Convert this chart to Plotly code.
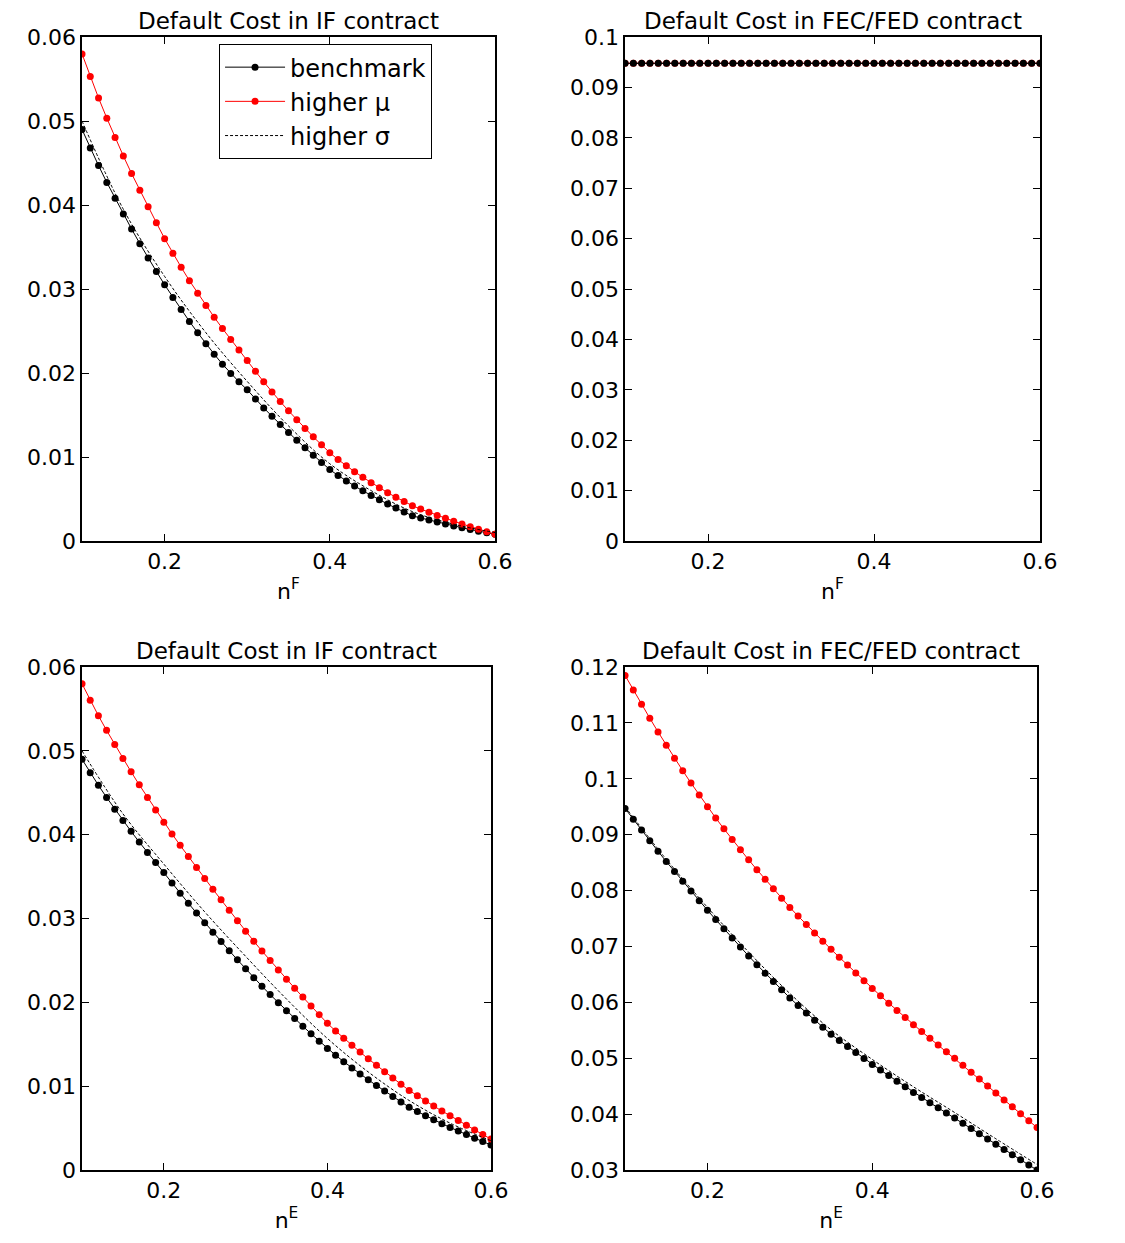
import plotly.graph_objects as go

# x grid (51 points, step 0.01) and coarse grid for the dashed curves
n_grid = [round(0.10 + 0.01 * i, 2) for i in range(51)]
n_coarse = [0.10, 0.15, 0.20, 0.25, 0.30, 0.35, 0.40, 0.45, 0.50, 0.55, 0.60]

# --- top-left: IF contract vs n^F (values in 1e-3)
tl_bench = [49.0, 46.8, 44.7, 42.7, 40.8, 38.95, 37.15, 35.4, 33.7, 32.1, 30.5,
            29.0, 27.55, 26.15, 24.8, 23.5, 22.25, 21.05, 19.95, 18.95, 18.0,
            16.9, 15.85, 14.85, 13.87, 12.92, 11.99, 11.09, 10.21, 9.34, 8.5,
            7.8, 7.15, 6.55, 5.97, 5.42, 4.9, 4.4, 3.92, 3.45, 3.0,
            2.74, 2.49, 2.25, 2.02, 1.8, 1.58, 1.37, 1.17, 0.98, 0.8]
tl_mu = [58.0, 55.3, 52.75, 50.35, 48.05, 45.85, 43.75, 41.75, 39.8, 37.9, 36.0,
         34.25, 32.6, 31.0, 29.5, 28.05, 26.65, 25.3, 24.0, 22.75, 21.5,
         20.2, 18.95, 17.75, 16.6, 15.5, 14.45, 13.4, 12.4, 11.45, 10.5,
         9.7, 8.95, 8.25, 7.58, 6.94, 6.33, 5.76, 5.21, 4.69, 4.2,
         3.8, 3.42, 3.05, 2.7, 2.36, 2.03, 1.71, 1.4, 1.1, 0.8]
tl_sigma = [50.0, 39.5, 31.5, 24.8, 19.0, 13.7, 9.2, 6.0, 3.5, 2.0, 1.0]

# --- top-right: FEC/FED contract vs n^F (flat)
tr_bench = [94.8] * 51
tr_mu = [94.8] * 51
tr_sigma = [94.8] * 11

# --- bottom-left: IF contract vs n^E
bl_bench = [49.0, 47.4, 45.9, 44.45, 43.05, 41.7, 40.4, 39.12, 37.88, 36.68, 35.5,
            34.25, 33.03, 31.83, 30.66, 29.51, 28.38, 27.27, 26.17, 25.08, 24.0,
            22.95, 21.93, 20.93, 19.96, 19.01, 18.08, 17.16, 16.26, 15.38, 14.5,
            13.7, 12.93, 12.19, 11.47, 10.77, 10.09, 9.42, 8.77, 8.13, 7.5,
            6.98, 6.48, 6.0, 5.54, 5.09, 4.65, 4.23, 3.81, 3.4, 3.0]
bl_mu = [58.0, 56.05, 54.2, 52.45, 50.75, 49.1, 47.5, 45.95, 44.45, 42.95, 41.5,
         40.1, 38.73, 37.39, 36.08, 34.78, 33.5, 32.23, 30.98, 29.74, 28.5,
         27.3, 26.13, 24.99, 23.87, 22.77, 21.69, 20.63, 19.58, 18.54, 17.5,
         16.6, 15.73, 14.89, 14.07, 13.27, 12.49, 11.73, 10.98, 10.24, 9.5,
         8.86, 8.24, 7.64, 7.05, 6.47, 5.9, 5.34, 4.79, 4.24, 3.7]
bl_sigma = [50.0, 42.5, 36.5, 30.8, 25.5, 20.4, 15.7, 11.7, 8.3, 5.6, 3.5]

# --- bottom-right: FEC/FED contract vs n^E
br_bench = [94.7, 92.75, 90.83, 88.93, 87.05, 85.2, 83.42, 81.66, 79.92, 78.2, 76.5,
            74.82, 73.16, 71.52, 69.9, 68.3, 66.75, 65.23, 63.73, 62.25, 60.8,
            59.44, 58.12, 56.82, 55.54, 54.3, 53.2, 52.11, 51.03, 49.96, 48.9,
            47.9, 46.9, 45.9, 44.9, 43.9, 42.98, 42.06, 41.14, 40.22, 39.3,
            38.36, 37.42, 36.48, 35.54, 34.6, 33.68, 32.76, 31.84, 30.92, 30.0]
br_mu = [118.5, 115.9, 113.35, 110.85, 108.4, 106.0, 103.7, 101.45, 99.25, 97.1, 95.0,
         93.0, 91.05, 89.15, 87.3, 85.5, 83.75, 82.03, 80.33, 78.65, 77.0,
         75.45, 73.93, 72.43, 70.95, 69.5, 68.08, 66.67, 65.27, 63.88, 62.5,
         61.18, 59.87, 58.57, 57.28, 56.0, 54.78, 53.57, 52.37, 51.18, 50.0,
         48.76, 47.52, 46.28, 45.04, 43.8, 42.56, 41.32, 40.08, 38.84, 37.6]
br_sigma = [95.0, 85.6, 77.0, 69.0, 61.6, 55.1, 49.8, 44.9, 40.3, 35.6, 31.0]

titles = ["Default Cost in IF contract", "Default Cost in FEC/FED contract",
          "Default Cost in IF contract", "Default Cost in FEC/FED contract"]
xlabels = ["n<sup>F</sup>", "n<sup>F</sup>", "n<sup>E</sup>", "n<sup>E</sup>"]

# domains compensate for the 8px page margin of the html body
panels = [
    (tl_bench, tl_mu, tl_sigma, [0.0658, 0.4329], [0.5712, 0.9766], [0, 0.06], 0.01),
    (tr_bench, tr_mu, tr_sigma, [0.5485, 0.9173], [0.5712, 0.9766], [0, 0.1], 0.01),
    (bl_bench, bl_mu, bl_sigma, [0.0658, 0.4293], [0.0651, 0.4698], [0, 0.06], 0.01),
    (br_bench, br_mu, br_sigma, [0.5485, 0.9147], [0.0651, 0.4698], [0.03, 0.12], 0.01),
]

FONT = "DejaVu Sans, sans-serif"
fig = go.Figure()
layout = {}
annotations = []
for i, (bench, mu, sig, xd, yd, yr, dt) in enumerate(panels):
    k = "" if i == 0 else str(i + 1)
    xa, ya = "x" + k, "y" + k
    first = i == 0
    t_bench = go.Scatter(x=n_grid, y=[v / 1000 for v in bench], xaxis=xa, yaxis=ya,
                         mode="lines+markers", name="benchmark", showlegend=first,
                         line=dict(color="black", width=1),
                         marker=dict(color="black", size=7))
    t_mu = go.Scatter(x=n_grid, y=[v / 1000 for v in mu], xaxis=xa, yaxis=ya,
                      mode="lines+markers", name="higher μ", showlegend=first,
                      line=dict(color="red", width=1),
                      marker=dict(color="red", size=7))
    t_sig = go.Scatter(x=n_coarse, y=[v / 1000 for v in sig], xaxis=xa, yaxis=ya,
                       mode="lines", name="higher σ", showlegend=first,
                       line=dict(color="black", width=1, dash="3px,2px", shape="spline"))
    if i == 1:
        # flat panel: black markers sit on top of the red ones
        fig.add_traces([t_mu, t_bench, t_sig])
    else:
        fig.add_traces([t_bench, t_mu, t_sig])
    axis_common = dict(showgrid=False, zeroline=False, showline=True, linecolor="black",
                       linewidth=1.5, mirror="ticks", ticks="inside", ticklen=7,
                       tickcolor="black", automargin=False,
                       tickfont=dict(size=22, color="black", family=FONT))
    layout["xaxis" + k] = dict(domain=xd, anchor=ya, range=[0.1, 0.6],
                               tickvals=[0.2, 0.4, 0.6], ticktext=["0.2", "0.4", "0.6"],
                               title=dict(text=xlabels[i], standoff=10,
                                          font=dict(size=22, color="black", family=FONT)),
                               **axis_common)
    layout["yaxis" + k] = dict(domain=yd, anchor=xa, range=yr, dtick=dt,
                               tickformat="~g", **axis_common)
    annotations.append(dict(text=titles[i], x=(xd[0] + xd[1]) / 2, y=yd[1], xref="paper",
                            yref="paper", xanchor="center", yanchor="bottom", yshift=1,
                            showarrow=False, font=dict(size=23, color="black", family=FONT)))

fig.update_layout(**layout)
fig.update_layout(
    width=1125, height=1243, margin=dict(l=0, r=0, t=0, b=0, pad=0), autosize=False,
    plot_bgcolor="white", paper_bgcolor="white", annotations=annotations,
    legend=dict(x=0.1876, y=0.971, xanchor="left", yanchor="top",
                bordercolor="black", borderwidth=1, bgcolor="white",
                font=dict(size=24, color="black", family=FONT), itemwidth=60),
)
fig.write_html("out.html")
